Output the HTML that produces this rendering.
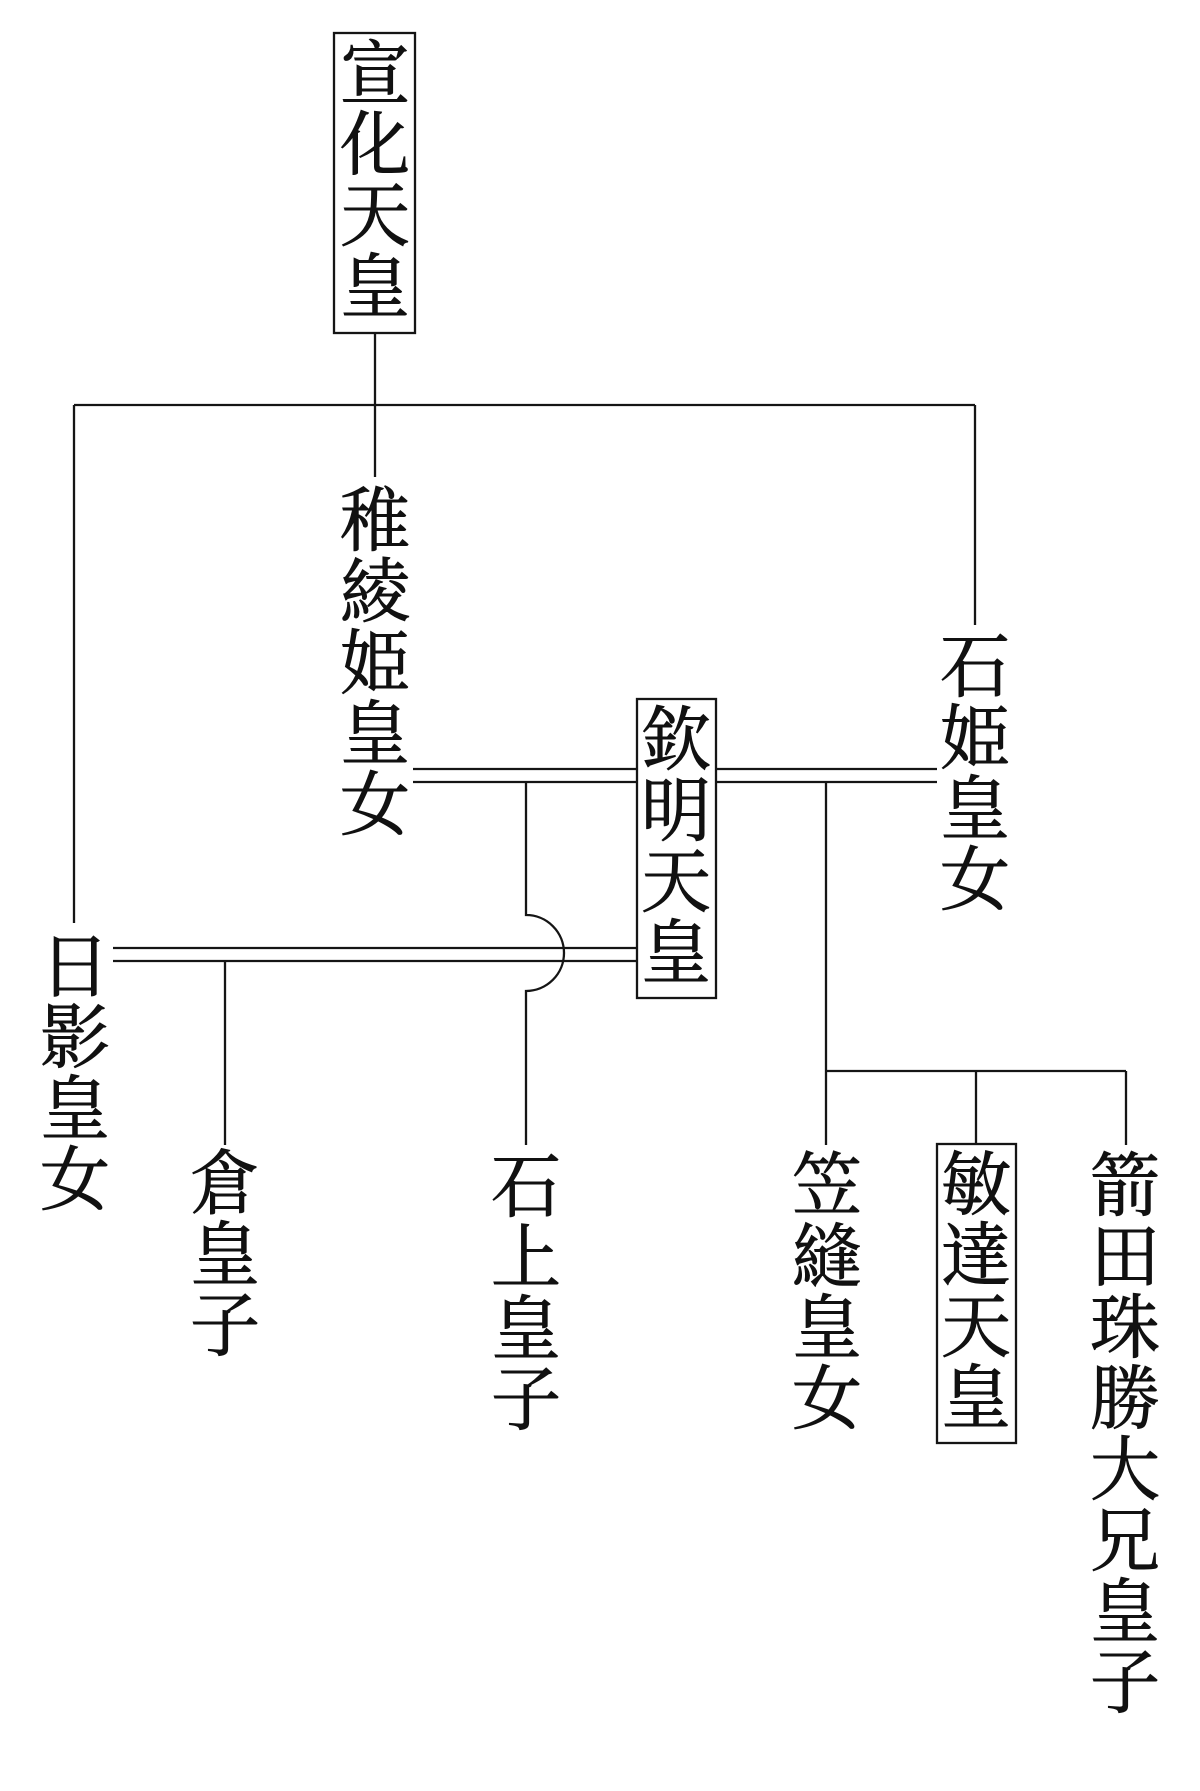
<!DOCTYPE html>
<html><head><meta charset="utf-8"><style>
html,body{margin:0;padding:0;background:#fff;}
svg{display:block;}
text{font-family:"Liberation Serif","Noto Serif CJK SC","Noto Sans CJK JP",serif;font-size:70px;fill:#111;stroke:#111;stroke-width:0.9px;text-anchor:middle;}
</style></head><body>
<svg width="1200" height="1791" viewBox="0 0 1200 1791" xmlns="http://www.w3.org/2000/svg">
<g stroke="#151515" stroke-width="2.3" fill="none">
<rect x="334" y="33" width="81" height="300"/>
<rect x="637" y="699" width="79" height="299"/>
<rect x="937" y="1144" width="79" height="299"/>
<line x1="375" y1="333" x2="375" y2="477"/>
<line x1="74" y1="405" x2="975" y2="405"/>
<line x1="74" y1="405" x2="74" y2="923"/>
<line x1="975" y1="405" x2="975" y2="625"/>
<line x1="413" y1="769" x2="637" y2="769"/>
<line x1="413" y1="782" x2="637" y2="782"/>
<line x1="716" y1="769" x2="937" y2="769"/>
<line x1="716" y1="782" x2="937" y2="782"/>
<line x1="113" y1="948" x2="637" y2="948"/>
<line x1="113" y1="961" x2="637" y2="961"/>
<path d="M526 782 L526 915 A38 38 0 0 1 526 991 L526 1145"/>
<line x1="225" y1="961" x2="225" y2="1145"/>
<line x1="826" y1="782" x2="826" y2="1145"/>
<line x1="826" y1="1071" x2="1126" y2="1071"/>
<line x1="976" y1="1071" x2="976" y2="1144"/>
<line x1="1126" y1="1071" x2="1126" y2="1145"/>
</g>
<g>
<text x="375" y="98">宣</text><text x="375" y="169">化</text><text x="375" y="240">天</text><text x="375" y="311">皇</text>
<text x="375" y="545">稚</text><text x="375" y="616">綾</text><text x="375" y="687">姫</text><text x="375" y="758">皇</text><text x="375" y="829">女</text>
<text x="975" y="691">石</text><text x="975" y="762">姫</text><text x="975" y="833">皇</text><text x="975" y="904">女</text>
<text x="676" y="764">欽</text><text x="676" y="835">明</text><text x="676" y="906">天</text><text x="676" y="977">皇</text>
<text x="75" y="991">日</text><text x="75" y="1062">影</text><text x="75" y="1133">皇</text><text x="75" y="1204">女</text>
<text x="225" y="1208">倉</text><text x="225" y="1279">皇</text><text x="225" y="1350">子</text>
<text x="526" y="1211">石</text><text x="526" y="1282">上</text><text x="526" y="1353">皇</text><text x="526" y="1424">子</text>
<text x="827" y="1210">笠</text><text x="827" y="1281">縫</text><text x="827" y="1352">皇</text><text x="827" y="1423">女</text>
<text x="976" y="1209">敏</text><text x="976" y="1280">達</text><text x="976" y="1351">天</text><text x="976" y="1422">皇</text>
<text x="1125" y="1210">箭</text><text x="1125" y="1281">田</text><text x="1125" y="1352">珠</text><text x="1125" y="1423">勝</text><text x="1125" y="1494">大</text><text x="1125" y="1565">兄</text><text x="1125" y="1636">皇</text><text x="1125" y="1707">子</text>
</g>
</svg>
</body></html>
